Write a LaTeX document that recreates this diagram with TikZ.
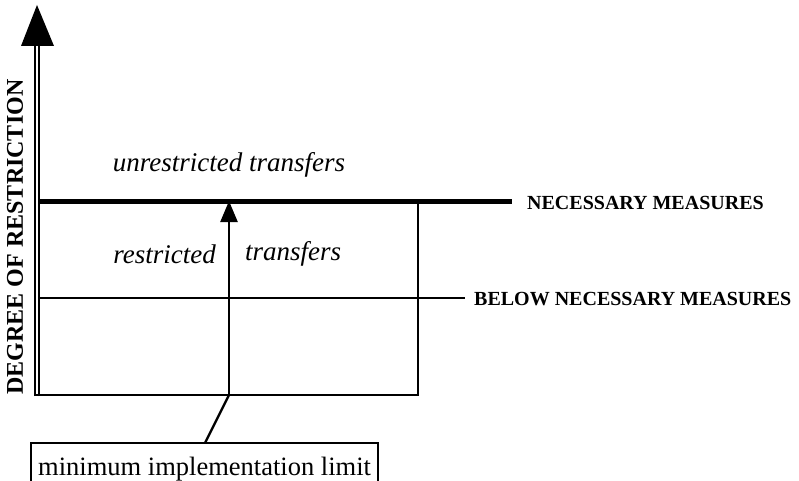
\documentclass[tikz,border=0pt]{standalone}
\usepackage{fontspec}
\setmainfont{Liberation Serif}
\usetikzlibrary{arrows.meta}
\begin{document}
\begin{tikzpicture}[x=1pt,y=-1pt,
  lbl/.style={font=\fontsize{20}{24}\selectfont\bfseries, inner sep=0pt},
  itl/.style={font=\fontsize{27}{30}\selectfont\itshape, inner sep=0pt},
  thin/.style={line width=2.4pt},
  thick/.style={line width=5pt}]
\useasboundingbox (0,0) rectangle (799,481);
% corners
\coordinate (bll) at (34,395);
\coordinate (br) at (418,395);
\coordinate (tr) at (418,200);
\coordinate (nl) at (39,201);
\coordinate (nr) at (512,201);
\coordinate (bl) at (39,298);
\coordinate (bre) at (465,298);
\coordinate (mb) at (229,395);
\coordinate (mt) at (229,201);
\coordinate (mk) at (205,443);
% axis double line
\draw[line width=1.9pt] (34.8,396) -- (34.8,40);
\draw[line width=2.4pt] (38.8,396) -- (38.8,40);
\fill (37,5) -- (21,46) -- (54,46) -- cycle;
% box
\draw[thin] (bll) -- (br) -- (tr);
\draw[thick] (nl) -- (nr);
\draw[thin] (bl) -- (bre);
% arrow
\draw[thin,-{Triangle[length=21pt,width=17pt]}] (mb) -- (mt);
\draw[thin] (mb) -- (mk);
% labels
\node[lbl,anchor=west] (nm) at (527,203) {NECESSARY MEASURES};
\node[lbl,anchor=west] (bnm) at (474,299) {BELOW NECESSARY MEASURES};
\node[font=\fontsize{24}{28}\selectfont\bfseries, inner sep=0pt, rotate=90] (deg) at (15,237) {DEGREE OF RESTRICTION};
\node[itl] (unr) at (229,165) {unrestricted transfers};
\node[itl,anchor=east] (res) at (216,254) {restricted};
\node[itl,anchor=west] (tra) at (245,254) {transfers};
\node[font=\fontsize{26.5}{30}\selectfont, anchor=base west, inner sep=0pt] (lim) at (38,475) {minimum implementation limit};
\draw[line width=1.8pt] (31,490) -- (31,443) -- (378,443) -- (378,490);
\end{tikzpicture}
\end{document}
